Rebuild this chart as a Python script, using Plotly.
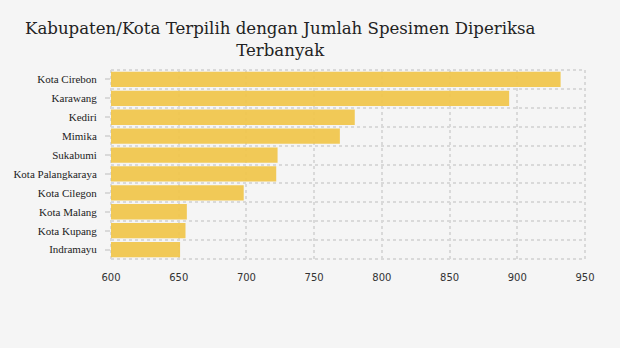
import plotly.graph_objects as go

regions = ["Kota Cirebon", "Karawang", "Kediri", "Mimika", "Sukabumi",
           "Kota Palangkaraya", "Kota Cilegon", "Kota Malang", "Kota Kupang", "Indramayu"]
specimens = [932, 894, 780, 769, 723, 722, 698, 656, 655, 651]
x_ticks = [600, 650, 700, 750, 800, 850, 900, 950]

positions = list(range(len(regions)))
grid = "#d9d9d9"

fig = go.Figure(go.Bar(
    x=specimens,
    y=positions,
    base=0,
    orientation="h",
    width=0.81,
    marker=dict(color="rgba(241,196,70,0.9)", line=dict(width=0)),
    hovertemplate="%{customdata}: %{x}<extra></extra>",
    customdata=regions,
))

# dotted frame around the plotting area, drawn beneath the bars
frame = dict(type="line", xref="paper", yref="paper", layer="below",
             line=dict(color=grid, width=2, dash="dot"))
for x0, y0, x1, y1 in [(0, 0, 1, 0), (0, 1, 1, 1), (0, 0, 0, 1), (1, 0, 1, 1)]:
    fig.add_shape(x0=x0, y0=y0, x1=x1, y1=y1, **frame)

fig.update_layout(
    width=620,
    height=348,
    paper_bgcolor="#f5f5f5",
    plot_bgcolor="#f5f5f5",
    margin=dict(l=111, r=35, t=70, b=89),
    showlegend=False,
    title=dict(
        text="Kabupaten/Kota Terpilih dengan Jumlah Spesimen Diperiksa<br>Terbanyak",
        x=0.452, xanchor="center",
        y=0.902, yanchor="middle",
        font=dict(family="DejaVu Serif", size=16.6, color="#222222"),
    ),
    xaxis=dict(
        range=[600, 950],
        tickvals=x_ticks,
        ticktext=[str(v) for v in x_ticks],
        showgrid=True,
        gridcolor=grid,
        gridwidth=2,
        griddash="dot",
        zeroline=False,
        showline=False,
        ticks="outside",
        ticklen=9,
        tickcolor="rgba(0,0,0,0)",
        tickfont=dict(family="DejaVu Sans", size=10, color="#333333"),
    ),
    yaxis=dict(
        range=[len(regions) - 0.5, -0.5],
        tickvals=positions,
        ticktext=regions,
        showgrid=False,
        zeroline=False,
        showline=False,
        ticks="outside",
        ticklen=5,
        tickwidth=2,
        tickcolor=grid,
        ticklabelstandoff=6,
        tickfont=dict(family="Liberation Serif", size=11, color="#222222"),
        minor=dict(
            tickmode="array",
            tickvals=[p - 0.5 for p in positions] + [len(regions) - 0.5],
            showgrid=True,
            gridcolor=grid,
            gridwidth=2,
            griddash="dot",
            ticks="",
        ),
    ),
)

fig.write_html("out.html")
